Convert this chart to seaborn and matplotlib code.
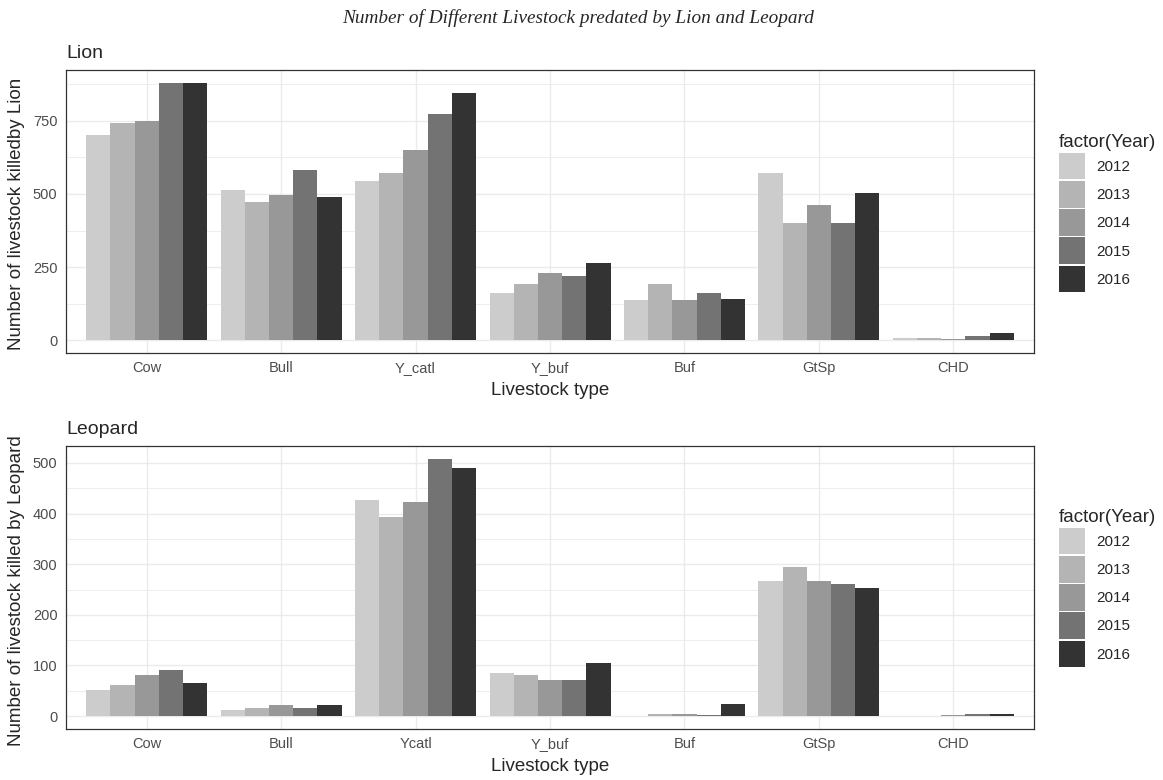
"""
lion / leopard livestock predation bars, grey fill per year
"""

import matplotlib
matplotlib.use("Agg")
import matplotlib.pyplot as plt
from matplotlib.ticker import MultipleLocator
import seaborn as sns
import pandas as pd

years = ["2012", "2013", "2014", "2015", "2016"]
greys = ["#CCCCCC", "#B4B4B4", "#989898", "#737373", "#333333"]

lion_types = ["Cow", "Bull", "Y_catl", "Y_buf", "Buf", "GtSp", "CHD"]
lion_2012 = [701, 513, 544, 161, 136, 573, 9]
lion_2013 = [743, 471, 573, 191, 191, 399, 9]
lion_2014 = [751, 497, 650, 229, 136, 463, 5]
lion_2015 = [879, 581, 773, 220, 162, 399, 13]
lion_2016 = [879, 488, 845, 263, 140, 502, 25]

leo_types = ["Cow", "Bull", "Ycatl", "Y_buf", "Buf", "GtSp", "CHD"]
leo_2012 = [51, 12, 427, 85, 1, 266, 1]
leo_2013 = [61, 17, 394, 81, 4, 295, 1]
leo_2014 = [81, 22, 423, 71, 4, 266, 2]
leo_2015 = [91, 17, 508, 71, 2, 261, 4]
leo_2016 = [66, 22, 489, 105, 24, 254, 4]

W, H = 1163, 780


def long_table(types, series):
    rows = []
    for yr, vals in zip(years, series):
        for t, v in zip(types, vals):
            rows.append({"type": t, "Year": yr, "count": v})
    return pd.DataFrame(rows)


def plotpanel(ax, df, types, title, ylabel, ymax, step, leg_top):
    sns.barplot(df, x="type", y="count", hue="Year", order=types,
                hue_order=years, palette=greys, width=0.9, saturation=1,
                linewidth=0, ax=ax)
    ax.set_xlim(-0.6, len(types) - 0.4)
    ax.set_ylim(-0.05 * ymax, 1.05 * ymax)
    ax.yaxis.set_major_locator(MultipleLocator(step))
    ax.yaxis.set_minor_locator(MultipleLocator(step / 2))
    ax.set_axisbelow(True)
    ax.grid(True, which="major", color="#EBEBEB", lw=1.0)
    ax.grid(True, which="minor", axis="y", color="#EBEBEB", lw=0.6)
    ax.tick_params(which="minor", length=0)
    ax.tick_params(which="major", length=3.6, width=0.8, color="#333333",
                   labelcolor="#4D4D4D", labelsize=10.5, pad=2.5)
    for s in ax.spines.values():
        s.set_color("#333333")
        s.set_linewidth(0.9)
    ax.set_xlabel("Livestock type", fontsize=13.5, labelpad=5)
    ax.set_ylabel(ylabel, fontsize=13.5)
    ax.yaxis.set_label_coords(-0.042, 0.49)
    ax.set_title(title, loc="left", fontsize=14, pad=8.5)

    handles, labels = ax.get_legend_handles_labels()
    ax.get_legend().remove()
    ax.legend(handles, labels, title="factor(Year)", loc="upper left",
              bbox_to_anchor=(1059 / W, 1 - leg_top / H),
              bbox_transform=ax.figure.transFigure, frameon=False,
              fontsize=11, title_fontsize=13.5, handlelength=1.7,
              handleheight=2.3, labelspacing=0.11, handletextpad=0.75,
              borderpad=0, borderaxespad=0, alignment="left")


def main():
    sns.set_style("white")
    plt.rcParams["font.family"] = ["Liberation Sans", "DejaVu Sans"]

    fig = plt.figure(figsize=(W / 100, H / 100), dpi=100)
    ax1 = fig.add_axes([66 / W, 1 - 353 / H, 968 / W, 283 / H])
    ax2 = fig.add_axes([66 / W, 1 - 729 / H, 968 / W, 283 / H])

    lion = long_table(lion_types, [lion_2012, lion_2013, lion_2014, lion_2015, lion_2016])
    leo = long_table(leo_types, [leo_2012, leo_2013, leo_2014, leo_2015, leo_2016])

    plotpanel(ax1, lion, lion_types, "Lion", "Number of livestock killedby Lion",
              880, 250, 134)
    plotpanel(ax2, leo, leo_types, "Leopard", "Number of livestock killed by Leopard",
              508, 100, 509)

    fig.text(0.497, 1 - 18 / H, "Number of Different Livestock predated by Lion and Leopard",
             ha="center", va="center", fontsize=13.9, style="italic",
             family="Liberation Serif")

    fig.savefig("out.png", dpi=100)


main()
